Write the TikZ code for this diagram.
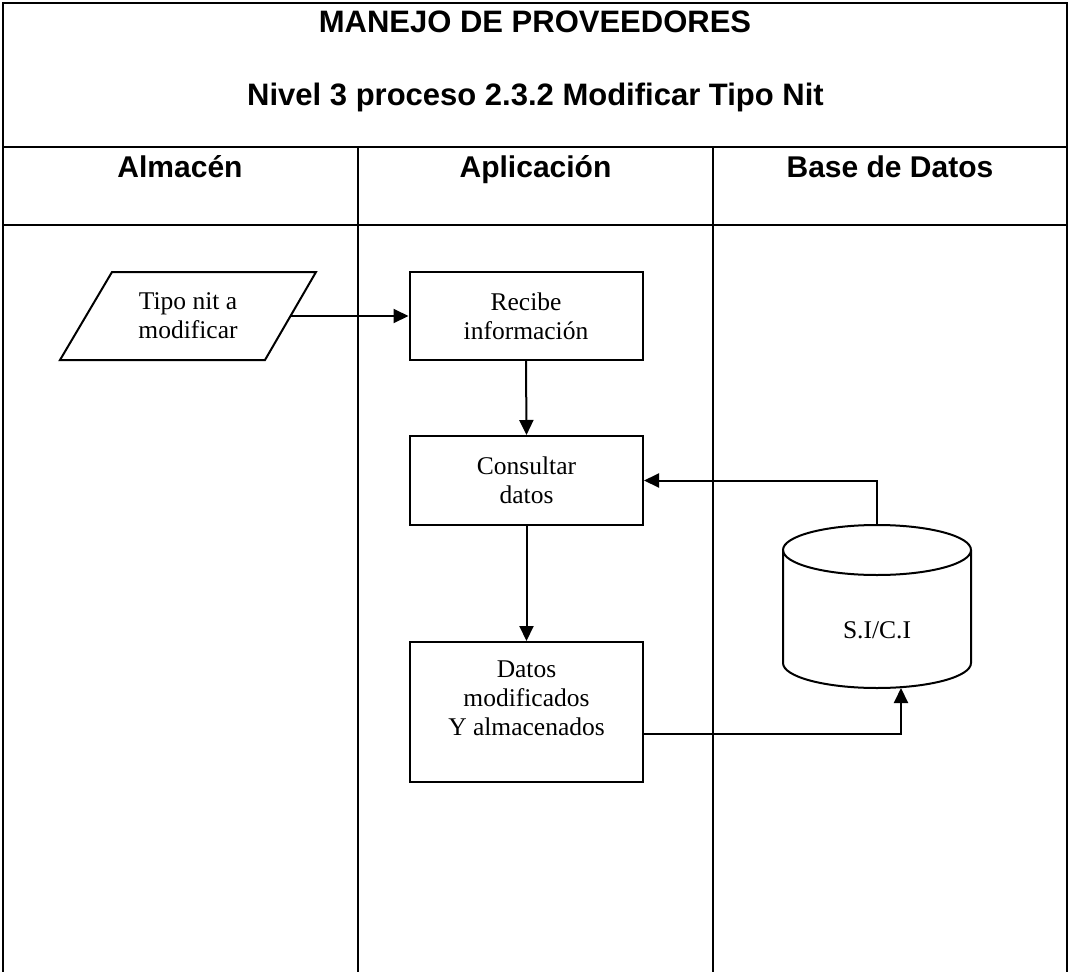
\documentclass[tikz,border=0pt]{standalone}
\usepackage{fontspec}
\setmainfont{Liberation Serif}
\newfontfamily\headfont{Liberation Sans}
\usetikzlibrary{arrows.meta,calc}
\begin{document}
\begin{tikzpicture}[x=1pt,y=-1pt,
  frame/.style={line width=2.6pt},
  boxline/.style={line width=2pt},
  boxfont/.style={font=\fontsize{25.5}{29}\selectfont},
  procbox/.style={draw,line width=2pt,minimum width=233pt,inner sep=0pt,align=center,boxfont},
  htext/.style={font=\headfont\bfseries\fontsize{30}{36}\selectfont,anchor=base,inner sep=0pt},
  ttext/.style={htext,font=\headfont\bfseries\fontsize{31}{36}\selectfont},
  conn/.style={line width=2pt,-{Triangle[length=15pt,width=14pt]}},
]
\useasboundingbox (0,0) rectangle (1069,972);
% frame
\draw[frame] (3,972) -- (3,3) -- (1067,3) -- (1067,972);
\draw[frame] (3,147) -- (1067,147);
\draw[frame] (3,225) -- (1067,225);
\draw[frame] (358,147) -- (358,972);
\draw[frame] (713,147) -- (713,972);
% titles
\node[ttext] (t1) at (535,32) {MANEJO DE PROVEEDORES};
\node[ttext] (t2) at (535.5,105) {Nivel 3 proceso 2.3.2 Modificar Tipo Nit};
\node[htext] (h1) at (180,177) {Almacén};
\node[htext] (h2) at (535.5,177) {Aplicación};
\node[htext] (h3) at (890,177) {Base de Datos};
% parallelogram
\draw[boxline] (112,272) -- (316,272) -- (265,360) -- (60,360) -- cycle;
\node[align=center,inner sep=0pt,boxfont] (tipo) at (188,316) {Tipo nit a\\modificar};
\coordinate (tipoE) at (290.5,316);
% process boxes
\node[procbox,minimum height=88pt] (recibe) at (526,316) {Recibe\\información};
\node[procbox,minimum height=89pt] (consultar) at (526.5,480.5) {Consultar\\datos};
\node[procbox,minimum height=140pt] (datos) at (526.5,712) {};
\node[align=center,inner sep=0pt,boxfont] (datostxt) at (526.5,698) {Datos\\modificados\\Y almacenados};
% cylinder
\draw[boxline] (877,550) ellipse [x radius=94, y radius=25];
\draw[boxline] (783,550) -- (783,663) arc[start angle=180,end angle=0,x radius=94,y radius=25] -- (971,550);
\node[inner sep=0pt,boxfont] (sici) at (877,630) {S.I/C.I};
\coordinate (siciTop) at (877,525);
\coordinate (siciBot) at (901,688);
% connectors
\draw[conn] (tipoE) -- (recibe.west);
\draw[conn] (recibe.south) -- (consultar.north);
\draw[conn] (consultar.south) -- (datos.north);
\draw[conn] (siciTop) |- (consultar.east);
\draw[conn] ([yshift=-22pt]datos.east) -| (siciBot);
\end{tikzpicture}
\end{document}
